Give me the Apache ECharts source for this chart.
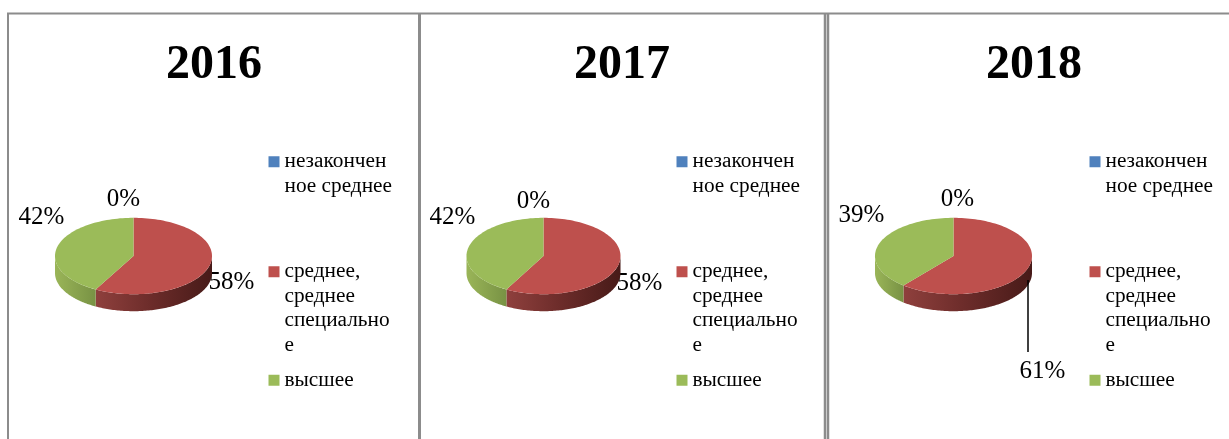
<!DOCTYPE html>
<html>
<head>
<meta charset="utf-8">
<style>
  html, body { margin: 0; padding: 0; background: #fff; }
  #chart { width: 1229px; height: 439px; }
</style>
<script src="https://cdn.jsdelivr.net/npm/echarts@6/dist/echarts.min.js"></script>
</head>
<body>
<div id="chart"></div>
<script>
// Education level shares by year
const years = ['2016', '2017', '2018'];
const categories = ['незаконченное среднее', 'среднее, среднее специальное', 'высшее'];
const values2016 = [0, 58, 42];
const values2017 = [0, 58, 42];
const values2018 = [0, 61, 39];
const yearValues = [values2016, values2017, values2018];

// Legend names wrap inside the narrow column, the way the panel's text box breaks them
const wrappedNames = {
  'незаконченное среднее': ['незакончен', 'ное среднее'],
  'среднее, среднее специальное': ['среднее,', 'среднее', 'специально', 'е'],
  'высшее': ['высшее']
};

const topColors = ['#4f81bd', '#be504d', '#9bbb59'];
const wallStops = [
  [[0, '#3f6797'], [1, '#2a4565']],
  [[0, '#8f403d'], [0.45, '#6e2d2b'], [1, '#471a18']],
  [[0, '#9ab558'], [1, '#789244']]
];

// Panel layout: pie centre, title centre, legend column and per-label offsets from the pie centre
const panels = [
  { cx: 133.5, rx: 78.5, titleX: 214, legendX: 268.5, label: [[-10, -57], [98, 26], [-92, -39]] },
  { cx: 543.5, rx: 77, titleX: 622, legendX: 676.5, label: [[-10, -55], [96, 27], [-91, -39]] },
  { cx: 953.5, rx: 78.5, titleX: 1034, legendX: 1089.5, label: [[4, -57], [89, 115], [-92, -41]] }
];
const pieCy = 256;
const pieRy = 38.2;
const pieDepth = 17;
const leader = { panel: 2, category: 1, dx: 74.5, y1: 280, y2: 352 };
const legendTops = [125, 186, 368];

const serif = '"Liberation Serif", "Times New Roman", serif';

function rimPoint(p, turn, drop) {
  const a = turn * 2 * Math.PI;
  return [p.cx + p.rx * Math.sin(a), pieCy - pieRy * Math.cos(a) + drop];
}

function sliceRender(panelIndex, catIndex) {
  return function (params, api) {
    const p = panels[panelIndex];
    const value = api.value(0);
    const start = api.value(1) / 100;
    const end = start + value / 100;
    const children = [];
    const steps = Math.max(2, Math.round((end - start) * 180));

    if (value > 0) {
      // Visible outer wall: only the front half of the rim, from 3 o'clock to 9 o'clock
      const wallFrom = Math.max(start, 0.25);
      const wallTo = Math.min(end, 0.75);
      if (wallTo > wallFrom) {
        const upper = [];
        const lower = [];
        for (let i = 0; i <= steps; i++) {
          const t = wallFrom + (wallTo - wallFrom) * i / steps;
          upper.push(rimPoint(p, t, 0));
          lower.unshift(rimPoint(p, t, pieDepth));
        }
        children.push({
          type: 'polygon',
          z2: 2,
          shape: { points: upper.concat(lower) },
          style: {
            fill: {
              type: 'linear', x: 0, y: 0, x2: 1, y2: 0,
              colorStops: wallStops[catIndex].map(s => ({ offset: s[0], color: s[1] }))
            }
          }
        });
      }
      // Top face
      const face = [[p.cx, pieCy]];
      for (let i = 0; i <= steps; i++) {
        face.push(rimPoint(p, start + (end - start) * i / steps, 0));
      }
      children.push({
        type: 'polygon',
        z2: 3,
        shape: { points: face },
        style: { fill: topColors[catIndex] }
      });
    }

    const off = p.label[catIndex];
    children.push({
      type: 'text',
      z2: 1,
      style: {
        x: p.cx + off[0],
        y: pieCy + off[1],
        text: value + '%',
        fill: '#000',
        font: '25px ' + serif,
        align: 'center',
        verticalAlign: 'middle'
      }
    });

    if (leader.panel === panelIndex && leader.category === catIndex) {
      children.push({
        type: 'line',
        z2: 4,
        shape: { x1: p.cx + leader.dx, y1: leader.y1, x2: p.cx + leader.dx, y2: leader.y2 },
        style: { stroke: '#000', lineWidth: 1.5 }
      });
    }
    return { type: 'group', children: children };
  };
}

const series = [];
const legends = [];
panels.forEach((p, pi) => {
  let running = 0;
  categories.forEach((name, ci) => {
    const v = yearValues[pi][ci];
    series.push({
      type: 'custom',
      name: name,
      coordinateSystem: 'none',
      silent: true,
      animation: false,
      clip: false,
      itemStyle: { color: topColors[ci] },
      data: [[v, running]],
      renderItem: sliceRender(pi, ci)
    });
    running += v;
    legends.push({
      data: [{ name: name, icon: 'rect', itemStyle: { color: topColors[ci] } }],
      left: p.legendX,
      top: legendTops[ci],
      orient: 'vertical',
      padding: 0,
      itemWidth: 11,
      itemHeight: 11,
      selectedMode: false,
      textStyle: { color: '#000', fontFamily: serif, fontSize: 21.3, lineHeight: 24.5 },
      // Leading blank lines keep the swatch level with the first text line
      formatter: n => {
        const lines = wrappedNames[n];
        return new Array(lines.length - 1).fill(' ').concat(lines).join('\n');
      }
    });
  });
});

// Panel frames: top rule plus the vertical dividers
const frameColor = '#8c8c8c';
const frameLines = [
  [7, 13.5, 1229, 13.5, 2],
  [8, 13, 8, 439, 2],
  [419.5, 13, 419.5, 439, 3],
  [825, 13, 825, 439, 2.5],
  [828, 13, 828, 439, 2.5]
];

const chart = echarts.init(document.getElementById('chart'), null, { renderer: 'canvas' });
chart.setOption({
  animation: false,
  backgroundColor: '#fff',
  title: years.map((y, i) => ({
    text: y,
    left: panels[i].titleX,
    top: 42,
    textAlign: 'center',
    padding: 0,
    textStyle: { color: '#000', fontFamily: serif, fontSize: 48, fontWeight: 'bold' }
  })),
  legend: legends,
  graphic: frameLines.map(l => ({
    type: 'line',
    silent: true,
    shape: { x1: l[0], y1: l[1], x2: l[2], y2: l[3] },
    style: { stroke: frameColor, lineWidth: l[4] }
  })),
  series: series
});
</script>
</body>
</html>
